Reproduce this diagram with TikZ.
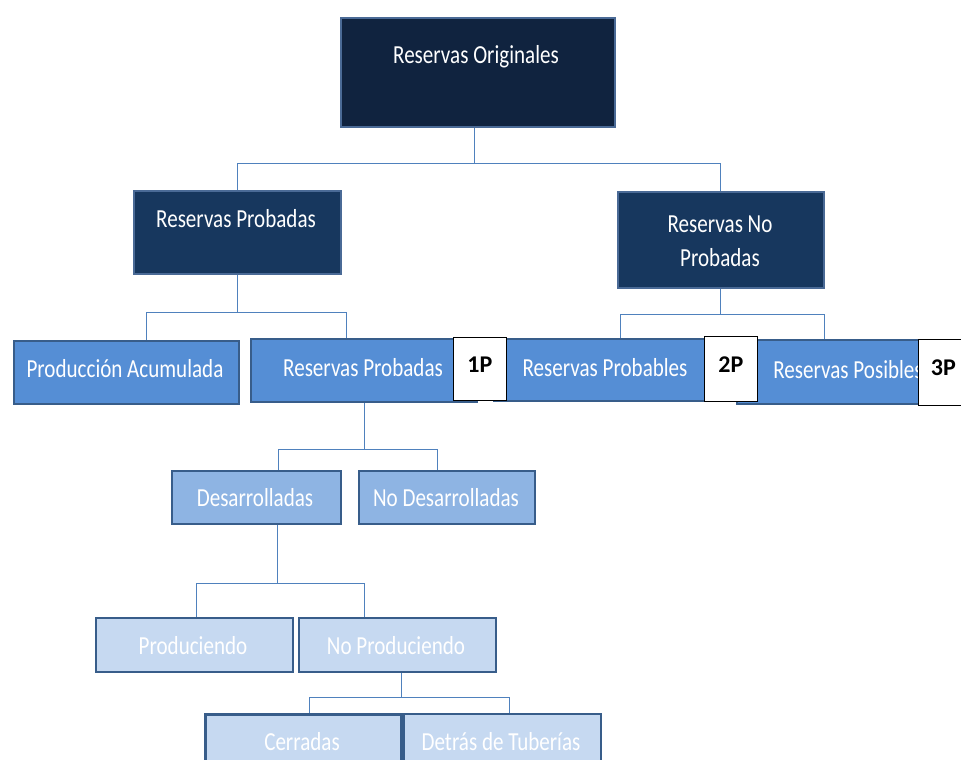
\documentclass[tikz,border=0pt]{standalone}
\usepackage{fontspec}
\setmainfont{Carlito}[FakeStretch=0.81]
\newfontfamily\tagfont{Carlito}
\usetikzlibrary{positioning}
\definecolor{cTop}{HTML}{10233F}
\definecolor{cDark}{HTML}{17375E}
\definecolor{cMid}{HTML}{558ED5}
\definecolor{cLight}{HTML}{8EB4E3}
\definecolor{cPale}{HTML}{C6D9F1}
\definecolor{cBord}{HTML}{385D8A}
\definecolor{cBordTop}{HTML}{4A6A96}
\definecolor{cLine}{HTML}{4F81BD}
\tikzset{
  box/.style={draw=cBord, line width=2.4pt, inner sep=0pt, anchor=north west},
  topbox/.style={box, draw=cBordTop, line width=1.6pt},
  txt/.style={text=white, font=\fontsize{26}{30}\selectfont, inner sep=0pt},
  tag/.style={draw=black, line width=0.8pt, fill=white, inner sep=0pt, anchor=north west,
    text depth=9pt, font=\tagfont\bfseries\fontsize{24}{28}\selectfont},
  conn/.style={draw=cLine, line width=1.1pt}
}
\begin{document}
\begin{tikzpicture}[x=1pt,y=-1pt]
\useasboundingbox (0,0) rectangle (961,760);
% level 1
\node[topbox, fill=cTop, minimum width=274pt, minimum height=109pt] (orig) at (340,17) {};
\node[txt] (origt) at (476,57) {Reservas Originales};
% level 2
\node[topbox, fill=cDark, minimum width=207pt, minimum height=83pt] (rpa) at (133,190) {};
\node[txt] (rpat) at (236,219) {Reservas Probadas};
\node[topbox, fill=cDark, minimum width=206pt, minimum height=96pt] (rnp) at (617,191) {};
\node[txt, align=center] (rnpt) at (720,241) {Reservas No\\[4pt]Probadas};
% level 3
\node[box, fill=cMid, minimum width=225pt, minimum height=63pt] (pa) at (13,340) {};
\node[txt] (pat) at (125,369) {Producción Acumulada};
\node[box, fill=cMid, minimum width=226pt, minimum height=63pt] (rpb) at (250,338) {};
\node[txt] (rpbt) at (363,368) {Reservas Probadas};
\node[box, fill=cMid, minimum width=252pt, minimum height=62pt] (prob) at (493,338) {};
\node[txt] (probt) at (605,368) {Reservas Probables};
\node[box, fill=cMid, minimum width=200pt, minimum height=64pt] (pos) at (736,339) {};
\node[txt] (post) at (848,370) {Reservas Posibles};
\node[tag, minimum width=53pt, minimum height=63pt] (t1) at (453,337) {1P};
\node[tag, minimum width=53pt, minimum height=65pt] (t2) at (704,336) {2P};
\node[tag, minimum width=50pt, minimum height=66pt] (t3) at (918,339) {3P};
% level 4
\node[box, fill=cLight, minimum width=169pt, minimum height=53pt] (des) at (171,470) {};
\node[txt] (dest) at (255,498) {Desarrolladas};
\node[box, fill=cLight, minimum width=176pt, minimum height=53pt] (nodes) at (358,470) {};
\node[txt] (nodest) at (446,498) {No Desarrolladas};
% level 5
\node[box, fill=cPale, minimum width=197pt, minimum height=54pt] (prod) at (95,617) {};
\node[txt] (prodt) at (193,646) {Produciendo};
\node[box, fill=cPale, minimum width=197pt, minimum height=54pt] (noprod) at (298,617) {};
\node[txt] (noprodt) at (396,646) {No Produciendo};
% level 6
\node[box, fill=cPale, line width=3.2pt, minimum width=196pt, minimum height=60pt] (cer) at (204,713) {};
\node[txt] (cert) at (302,742) {Cerradas};
\node[box, fill=cPale, minimum width=197pt, minimum height=60pt] (det) at (403,713) {};
\node[txt] (dett) at (501,742) {Detrás de Tuberías};
% connectors
\draw[conn] ([xshift=-3pt]orig.south) -- ++(0,36) coordinate (j1);
\draw[conn] (j1) -| (rpa.north);
\draw[conn] (j1) -| (rnp.north);
\draw[conn] (rpa.south) -- ++(0,38) coordinate (j2);
\draw[conn] (j2) -| ([xshift=20pt]pa.north);
\draw[conn] (j2) -| ([xshift=-18pt]rpb.north);
\draw[conn] (rnp.south) -- ++(0,26) coordinate (j3);
\draw[conn] (j3) -| (prob.north);
\draw[conn] (j3) -| ([xshift=-13pt]pos.north);
\draw[conn] (rpb.south) -- ++(0,46) coordinate (j4);
\draw[conn] (j4) -| ([xshift=22pt]des.north);
\draw[conn] (j4) -| ([xshift=-10pt]nodes.north);
\draw[conn] ([xshift=21pt]des.south) -- ++(0,58) coordinate (j5);
\draw[conn] (j5) -| ([xshift=2pt]prod.north);
\draw[conn] (j5) -| ([xshift=-33pt]noprod.north);
\draw[conn] ([xshift=4pt]noprod.south) -- ++(0,24) coordinate (j6);
\draw[conn] (j6) -| ([xshift=6pt]cer.north);
\draw[conn] (j6) -| ([xshift=7pt]det.north);
\end{tikzpicture}
\end{document}
